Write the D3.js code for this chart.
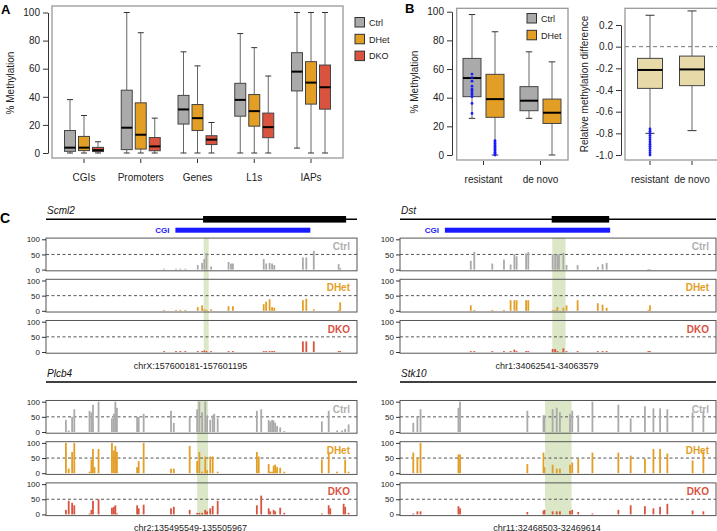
<!DOCTYPE html>
<html><head><meta charset="utf-8">
<script src="https://cdn.jsdelivr.net/npm/d3@7"></script>
<style>body{margin:0;background:#fff} svg{font-family:"Liberation Sans",Arial,sans-serif}</style>
</head><body><svg id="c" width="717" height="531"></svg>
<script>
// ---------- Panel A data: [low whisker, q1, median, q3, high whisker]
const aCategories = ["CGIs","Promoters","Genes","L1s","IAPs"];
const genotypes = ["Ctrl","DHet","DKO"];
const genoColors = ["#aaaaaa","#e39e25","#d9533f"];
const aCtrl = [[0,1.2,3.8,16,38],[0,2.4,18,44.7,100],[0,20.6,31,41,72],[0,26.2,37.8,49.6,85],[3.5,44.2,57.9,71.4,100]];
const aDHet = [[0,1.7,3.8,11.8,26.7],[0,2.8,13,35.7,85.6],[0,16,24.8,34.5,62],[0,19.1,29.8,41.6,75],[0,34.8,50.1,65,100]];
const aDKO  = [[0,1,2,4,8],[0,1.6,4.7,11,24.8],[0,6,9.5,12.3,21.7],[0,10.9,18.4,28.4,54.8],[0,31.2,46.8,62.6,100]];
const aTicks = [0,20,40,60,80,100];

// ---------- Panel B data
const bCategories = ["resistant","de novo"];
const bCtrl = [[25.6,40.7,53.7,67.4,98],[25.6,30.9,37.9,47.7,72]];
const bDHet = [[0,26.3,39,56.3,86],[0,22,29.5,39,65]];
const bCtrlPoints = [56.5,54,51.5,48,46,45,43.5,42,40.7,36,29];
const bDHetPoints = [10,9,8,7,6,5,4,3,2,1,0];
const bTicks = [0,20,40,60,80,100];
const bDiff = [[-0.8,-0.385,-0.215,-0.108,0.29],[-0.775,-0.36,-0.21,-0.087,0.33]];
const bDiffPoints = [-0.76,-0.78,-0.8,-0.82,-0.84,-0.86,-0.88,-0.9,-0.92,-0.94,-0.96,-0.98,-1.0];
const bDiffTicks = [0.2,0.0,-0.2,-0.4,-0.6,-0.8,-1.0];

// ---------- Panel C data (positions as % of the displayed region)
const cGenes = ["Scml2","Dst","Plcb4","Stk10"];
const cRegions = ["chrX:157600181-157601195","chr1:34062541-34063579","chr2:135495549-135505967","chr11:32468503-32469614"];
const cExon = [[50.5,96.5],[48.0,66.2],null,null];
const cCGI = [[41.6,85.0],[14.2,66.5],null,null];
const cHighlight = [[50.7,52.3],[48.2,52.4],[48.6,52.1],[45.9,54.3]];
const trackTicks = [0,50,100];

const scml2Pos  = [38.0,41.8,43.2,44.8,48.8,50.2,50.9,51.6,53.1,58.7,59.5,60.1,70.0,70.8,71.9,72.7,73.4,82.6,83.7,86.1,94.1,94.6];
const scml2Ctrl = [3,3,3,3,15,22,35,55,10,25,20,20,35,20,22,20,15,40,40,62,18,5];
const scml2DHet = [3,3,3,3,12,18,5,3,5,15,0,15,22,30,38,12,10,35,40,5,3,28];
const scml2DKO  = [3,3,3,3,3,3,5,3,3,3,0,3,3,3,3,3,3,35,35,35,3,3];

const dstPos  = [22.4,23.5,29.2,32.9,35.0,36.2,36.9,39.9,40.6,48.3,49.1,49.8,50.3,51.7,52.7,56.2,62.6,64.1,65.4,78.6,79.1];
const dstCtrl = [29,59,20,33,17,51,44,53,58,50,50,50,50,55,15,15,9,18,22,2,2];
const dstDHet = [18,3,3,3,35,35,35,35,35,3,3,12,0,10,18,35,25,20,10,3,18];
const dstDKO  = [3,3,3,3,3,8,3,3,3,10,10,3,0,12,3,3,3,3,3,3,3];

const plcb4Pos  = [6.4,7.3,8.4,9.1,14.0,14.6,15.1,15.6,16.9,21.2,21.8,22.3,22.8,29.3,29.8,31.4,40.2,41.1,46.2,48.6,49.3,50.2,51.2,51.8,52.8,53.6,54.1,55.2,67.8,68.4,69.2,71.6,72.1,72.7,73.2,73.7,74.3,75.3,76.6,88.7,90.9,91.4,93.6,95.2,95.7,96.2,97.3];
const plcb4Ctrl = [40,5,50,75,70,65,90,0,100,45,60,100,80,50,50,60,70,30,50,75,100,65,100,55,40,55,60,45,70,0,75,40,35,40,38,30,20,15,3,35,70,0,5,5,0,10,25];
const plcb4DHet = [100,15,70,100,5,45,80,20,80,100,75,90,70,20,40,100,15,15,90,40,70,5,55,10,55,55,0,5,70,55,0,30,5,5,25,28,20,18,5,45,70,0,5,0,0,45,5];
const plcb4DKO  = [15,45,38,30,3,15,45,0,50,22,25,30,3,30,20,32,20,25,15,5,5,5,15,10,20,28,0,45,30,0,62,20,10,0,15,10,0,22,5,3,30,20,0,0,35,25,5];

const stk10Pos  = [4.2,5.5,6.5,18.5,19.0,40.3,45.4,45.7,48.3,49.6,50.6,53.8,54.5,56.4,60.9,69.1,73.0,77.5,80.2,82.3,84.6,92.6,96.0];
const stk10Ctrl = [30,50,75,80,100,70,55,55,75,80,65,60,70,55,100,90,45,85,78,78,75,65,70];
const stk10DHet = [68,52,100,62,62,30,68,20,28,15,15,28,35,48,68,68,58,48,80,80,65,42,72];
const stk10DKO  = [3,10,10,27,20,8,12,15,10,10,10,12,15,8,3,15,30,27,20,25,35,13,10];

const cPositions = [scml2Pos,dstPos,plcb4Pos,stk10Pos];
const cValues = [[scml2Ctrl,scml2DHet,scml2DKO],[dstCtrl,dstDHet,dstDKO],[plcb4Ctrl,plcb4DHet,plcb4DKO],[stk10Ctrl,stk10DHet,stk10DKO]];

// ---------- drawing
const svg = d3.select("#c");

function boxplot(g, cx, w, s, y, fill, capW) {
  const [lo,q1,med,q3,hi] = s;
  const wc = "#666";
  g.append("line").attr("x1",cx).attr("x2",cx).attr("y1",y(hi)).attr("y2",y(q3)).attr("stroke",wc);
  g.append("line").attr("x1",cx).attr("x2",cx).attr("y1",y(q1)).attr("y2",y(lo)).attr("stroke",wc);
  [hi,lo].forEach(v => g.append("line").attr("x1",cx-capW/2).attr("x2",cx+capW/2).attr("y1",y(v)).attr("y2",y(v)).attr("stroke","#333"));
  g.append("rect").attr("x",cx-w/2).attr("y",y(q3)).attr("width",w).attr("height",y(q1)-y(q3))
    .attr("fill",fill).attr("stroke","#444").attr("stroke-width",1);
  g.append("line").attr("x1",cx-w/2).attr("x2",cx+w/2).attr("y1",y(med)).attr("y2",y(med)).attr("stroke","#000").attr("stroke-width",2);
}
function styleAxis(g, fs) {
  g.selectAll("path,line").attr("stroke","#333");
  g.selectAll("text").attr("font-size",fs).attr("fill","#222").attr("font-family",'"Liberation Sans",Arial,sans-serif');
}

// ---- Panel A
const gA = svg.append("g");
const yA = d3.scaleLinear().domain([0,100]).range([153,12.5]);
const xA = d3.scalePoint().domain(aCategories).range([84,311]);
gA.append("rect").attr("x",52).attr("y",6).attr("width",291).attr("height",152).attr("fill","none").attr("stroke","#999").attr("stroke-width",1.3);
const axA = gA.append("g").attr("transform","translate(48,0)").call(d3.axisLeft(yA).tickValues(aTicks).tickSize(5).tickSizeOuter(0).tickPadding(3));
styleAxis(axA, 10);
const aSeries = [aCtrl,aDHet,aDKO];
aCategories.forEach((c,i) => {
  aSeries.forEach((ser,k) => boxplot(gA, xA(c)+(k-1)*14, 11, ser[i], yA, genoColors[k], 6));
  gA.append("line").attr("x1",xA(c)).attr("x2",xA(c)).attr("y1",159).attr("y2",163).attr("stroke","#333");
  gA.append("text").attr("x",xA(c)).attr("y",181).attr("text-anchor","middle").attr("font-size",10).attr("fill","#222").text(c);
});
gA.append("text").attr("transform","translate(14,83) rotate(-90)").attr("text-anchor","middle").attr("font-size",10).attr("fill","#222").text("% Methylation");
genotypes.forEach((gname,k) => {
  gA.append("rect").attr("x",355).attr("y",17.5+k*16.8).attr("width",9.5).attr("height",9.5).attr("fill",genoColors[k]).attr("stroke","#333").attr("stroke-width",1);
  gA.append("text").attr("x",369).attr("y",25.8+k*16.8).attr("font-size",9).attr("fill","#222").text(gname);
});
svg.append("text").attr("x",1).attr("y",14).attr("font-size",13).attr("font-weight","bold").text("A");

// ---- Panel B left
const gB = svg.append("g");
const yB = d3.scaleLinear().domain([0,100]).range([155,11.7]);
const xB = d3.scalePoint().domain(bCategories).range([483.5,540.5]);
gB.append("rect").attr("x",456.7).attr("y",8.3).attr("width",111.3).attr("height",151.7).attr("fill","none").attr("stroke","#999").attr("stroke-width",1.3);
const axB = gB.append("g").attr("transform","translate(452,0)").call(d3.axisLeft(yB).tickValues(bTicks).tickSize(5).tickSizeOuter(0).tickPadding(3));
styleAxis(axB, 10);
bCategories.forEach((c,i) => {
  boxplot(gB, xB(c)-11.5, 18, bCtrl[i], yB, genoColors[0], 6.5);
  boxplot(gB, xB(c)+11.5, 18, bDHet[i], yB, genoColors[1], 6.5);
  gB.append("line").attr("x1",xB(c)).attr("x2",xB(c)).attr("y1",161).attr("y2",165).attr("stroke","#333");
  gB.append("text").attr("x",xB(c)).attr("y",183).attr("text-anchor","middle").attr("font-size",10).attr("fill","#222").text(c);
});
gB.selectAll("circle.cp").data(bCtrlPoints).join("circle").attr("cx",xB("resistant")-11.5).attr("cy",d=>yB(d)).attr("r",1.4).attr("fill","#1a1aff");
gB.selectAll("circle.dp").data(bDHetPoints).join("circle").attr("cx",xB("resistant")+11.5).attr("cy",d=>yB(d)).attr("r",1.4).attr("fill","#1a1aff");
gB.append("text").attr("transform","translate(418,82) rotate(-90)").attr("text-anchor","middle").attr("font-size",10).attr("fill","#222").text("% Methylation");
genotypes.slice(0,2).forEach((gname,k) => {
  gB.append("rect").attr("x",527).attr("y",13.5+k*16.8).attr("width",9.5).attr("height",9.5).attr("fill",genoColors[k]).attr("stroke","#333").attr("stroke-width",1);
  gB.append("text").attr("x",541).attr("y",21.8+k*16.8).attr("font-size",9).attr("fill","#222").text(gname);
});
svg.append("text").attr("x",405).attr("y",13).attr("font-size",13).attr("font-weight","bold").text("B");

// ---- Panel B right
const gR = svg.append("g");
const yR = d3.scaleLinear().domain([-1.0,0.2]).range([155,25]);
const xR = d3.scalePoint().domain(bCategories).range([650,692]);
gR.append("rect").attr("x",625).attr("y",8.3).attr("width",100).attr("height",151.7).attr("fill","none").attr("stroke","#999").attr("stroke-width",1.3);
gR.append("line").attr("x1",625).attr("x2",717).attr("y1",yR(0)).attr("y2",yR(0)).attr("stroke","#777").attr("stroke-dasharray","4,3");
const axR = gR.append("g").attr("transform","translate(621,0)").call(d3.axisLeft(yR).tickValues(bDiffTicks).tickSize(5).tickSizeOuter(0).tickPadding(3).tickFormat(d3.format(".1f")));
styleAxis(axR, 10);
axR.selectAll("text").text(d => d3.format(".1f")(d).replace("−","-"));
bCategories.forEach((c,i) => {
  boxplot(gR, xR(c), 25, bDiff[i], yR, "#e8d9a8", 9);
  gR.append("line").attr("x1",xR(c)).attr("x2",xR(c)).attr("y1",161).attr("y2",165).attr("stroke","#333");
  gR.append("text").attr("x",xR(c)).attr("y",183).attr("text-anchor","middle").attr("font-size",10).attr("fill","#222").text(c);
});
gR.selectAll("circle").data(bDiffPoints).join("circle").attr("cx",xR("resistant")).attr("cy",d=>yR(d)).attr("r",1.4).attr("fill","#1a1aff");
gR.append("text").attr("transform","translate(588,84) rotate(-90)").attr("text-anchor","middle").attr("font-size",10).attr("fill","#222").text("Relative methylation difference");

// ---- Panel C
svg.append("text").attr("x",0).attr("y",223).attr("font-size",14).attr("font-weight","bold").text("C");
const cLayout = [
  {x0:46, x1:357, geneY:219.3, top:239.3, labelY:368.5},
  {x0:400,x1:716, geneY:219.3, top:239.3, labelY:368.5},
  {x0:46, x1:357, geneY:382,   top:401.7, labelY:530.5},
  {x0:400,x1:716, geneY:382,   top:401.7, labelY:530.5}
];
const trackStep = 41.2, trackH = 30.3;
const labelColors = ["#b0b0b0","#e39e25","#d9533f"];
cGenes.forEach((gene,p) => {
  const L = cLayout[p];
  const g = svg.append("g");
  const xs = d3.scaleLinear().domain([0,100]).range([L.x0,L.x1]);
  // gene model
  g.append("line").attr("x1",L.x0).attr("x2",L.x1).attr("y1",L.geneY).attr("y2",L.geneY).attr("stroke","#000").attr("stroke-width",1.6);
  g.append("text").attr("x",L.x0+1).attr("y",L.geneY-5).attr("font-size",10).attr("font-style","italic").attr("fill","#111").text(gene);
  if (cExon[p]) g.append("rect").attr("x",xs(cExon[p][0])).attr("y",L.geneY-3.3).attr("width",xs(cExon[p][1])-xs(cExon[p][0])).attr("height",6.6).attr("fill","#000");
  if (cCGI[p]) {
    g.append("rect").attr("x",xs(cCGI[p][0])).attr("y",L.geneY+8.4).attr("width",xs(cCGI[p][1])-xs(cCGI[p][0])).attr("height",5).attr("fill","#1a1aff");
    g.append("text").attr("x",xs(cCGI[p][0])-6).attr("y",L.geneY+14).attr("text-anchor","end").attr("font-size",8).attr("font-weight","bold").attr("fill","#1a1aff").text("CGI");
  }
  // highlight
  const h = cHighlight[p];
  g.append("rect").attr("x",xs(h[0])).attr("y",L.top-1.5).attr("width",xs(h[1])-xs(h[0]))
    .attr("height",2*trackStep+trackH+3).attr("fill","#d5e3bd").attr("opacity",0.85);
  genotypes.forEach((gname,k) => {
    const t = L.top + k*trackStep;
    const ys = d3.scaleLinear().domain([0,100]).range([t+trackH,t]);
    g.append("rect").attr("x",L.x0).attr("y",ys(104)).attr("width",L.x1-L.x0).attr("height",ys(-4)-ys(104)).attr("fill","none").attr("stroke","#555").attr("stroke-width",1);
    g.append("line").attr("x1",L.x0).attr("x2",L.x1).attr("y1",ys(50)).attr("y2",ys(50)).attr("stroke","#555").attr("stroke-dasharray","3,2.5");
    const ax = g.append("g").attr("transform",`translate(${L.x0},0)`).call(d3.axisLeft(ys).tickValues(trackTicks).tickSize(4).tickSizeOuter(0).tickPadding(2));
    styleAxis(ax, 8);
    ax.select(".domain").remove();
    const pos = cPositions[p], vals = cValues[p][k];
    g.selectAll(null).data(pos.map((x,i)=>({x,v:vals[i]})).filter(d=>d.v>0)).join("rect")
      .attr("x",d=>xs(d.x)-0.9).attr("width",1.8).attr("y",d=>ys(d.v)).attr("height",d=>ys(0)-ys(d.v)).attr("fill",genoColors[k]);
    g.append("text").attr("x",L.x1-7).attr("y",ys(77)+4).attr("text-anchor","end").attr("font-size",10).attr("font-weight","bold").attr("fill",labelColors[k]).text(gname);
  });
  g.append("text").attr("x",(L.x0+L.x1)/2-11).attr("y",L.labelY).attr("text-anchor","middle").attr("font-size",9).attr("fill","#222").text(cRegions[p]);
});
</script></body></html>
